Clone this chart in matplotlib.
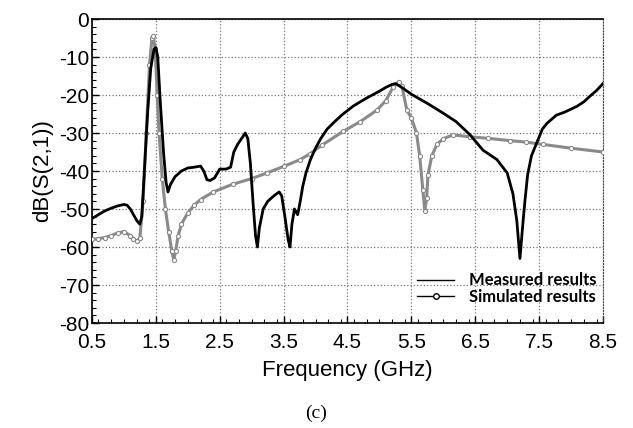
import matplotlib
matplotlib.use('Agg')
import matplotlib.pyplot as plt
from matplotlib.ticker import MultipleLocator

# measured S21 (frequency in GHz, dB)
meas_f = [0.5, 0.6, 0.7, 0.8, 0.9, 1.0, 1.05, 1.1, 1.15, 1.2, 1.25, 1.28, 1.32, 1.37,
          1.42, 1.47, 1.5, 1.53, 1.57, 1.62, 1.66, 1.69, 1.73, 1.8, 1.9, 2.0, 2.1, 2.2,
          2.25, 2.3, 2.35, 2.42, 2.5, 2.6, 2.67, 2.72, 2.78, 2.84, 2.9, 2.94, 2.98, 3.02,
          3.06, 3.09, 3.12, 3.18, 3.25, 3.35, 3.43, 3.47, 3.52, 3.57, 3.6, 3.63, 3.67,
          3.72, 3.76, 3.8, 3.85, 3.92, 4.0, 4.08, 4.18, 4.3, 4.43, 4.6, 4.8, 5.0, 5.1,
          5.2, 5.25, 5.35, 5.5, 5.75, 6.0, 6.2, 6.42, 6.62, 6.84, 7.0, 7.09, 7.15, 7.2,
          7.25, 7.28, 7.32, 7.38, 7.46, 7.55, 7.62, 7.77, 7.9, 8.09, 8.2, 8.29, 8.4, 8.5]
meas_db = [-52.5, -51.5, -50.5, -49.8, -49.2, -48.8, -49, -50, -51.5, -53, -54, -52, -40, -25,
           -13, -8, -7.5, -10, -22, -35, -43, -45.5, -43.5, -41.5, -40, -39.2, -39, -38.7,
           -40, -42.3, -42.5, -41.8, -39.5, -39.5, -39, -35, -33, -31.5, -30, -31.5, -38, -48,
           -57, -60, -55, -50, -48, -46.5, -45.5, -46.5, -52, -58, -60, -54, -50,
           -51.5, -48, -44, -40.5, -37, -34, -31.5, -29, -27, -25, -22.8, -20.8, -19, -18,
           -17.2, -17, -18, -19.8, -22.2, -24.8, -27, -30.5, -34.5, -37, -40.5, -46, -53, -63,
           -53, -47.5, -41, -36, -32.7, -29, -27.5, -25.3, -24.5, -23, -21.8, -20.4, -18.8, -17]

# simulated S21
sim_f = [0.5, 0.6, 0.7, 0.8, 0.9, 1.0, 1.1, 1.15, 1.2, 1.25, 1.3, 1.35, 1.4, 1.44, 1.46,
         1.49, 1.52, 1.55, 1.6, 1.65, 1.7, 1.75, 1.78, 1.81, 1.85, 1.9, 2.0, 2.1, 2.2, 2.4,
         2.7, 3.0, 3.24, 3.5, 3.76, 3.91, 4.1, 4.43, 4.7, 4.96, 5.1, 5.21, 5.3, 5.35, 5.43,
         5.5, 5.58, 5.63, 5.68, 5.71, 5.74, 5.76, 5.82, 5.9, 6.0, 6.15, 6.42, 6.7, 7.04,
         7.3, 7.56, 8.0, 8.5]
sim_db = [-58, -57.8, -57.5, -57, -56.3, -56, -57, -57.8, -58.5, -57.5, -48, -30, -12, -5, -4.5,
          -8, -20, -30, -42, -50, -56, -61, -63.5, -61, -57, -54, -51, -49, -47.5, -45.5,
          -43.5, -42, -40.5, -38.8, -37, -35.5, -33.2, -29.6, -27, -24, -21.5, -18, -16.5, -17.5, -24,
          -26, -30, -36, -45, -50.5, -47, -41, -36, -33, -31.5, -30.5, -31, -31.4, -32,
          -32.4, -33, -34, -35]

xticks = [0.5, 1.5, 2.5, 3.5, 4.5, 5.5, 6.5, 7.5, 8.5]
yticks = [0, -10, -20, -30, -40, -50, -60, -70, -80]

fig = plt.figure(figsize=(6.33, 4.28), dpi=100)
ax = fig.add_axes([0.1453, 0.2453, 0.8073, 0.7103])

ax.plot(sim_f, sim_db, color='#8a8a8a', linewidth=2.2, marker='o', markersize=3,
        markerfacecolor='white', markeredgecolor='#8a8a8a', markeredgewidth=0.8,
        label='Simulated results', zorder=3)
ax.plot(meas_f, meas_db, color='black', linewidth=2.0, label='Measured results', zorder=4)

ax.set_xlim(0.5, 8.5)
ax.set_ylim(-80, 0)
ax.set_xticks(xticks)
ax.set_yticks(yticks)
ax.set_xticklabels([str(t) for t in xticks])
ax.set_yticklabels([str(t) for t in yticks])
ax.xaxis.set_minor_locator(MultipleLocator(0.2))
ax.yaxis.set_minor_locator(MultipleLocator(2))
ax.tick_params(which='both', direction='in', top=False, right=False)
ax.tick_params(which='major', length=5, width=1)
ax.tick_params(which='minor', length=3, width=0.8)
ax.tick_params(axis='x', labelsize=15, pad=7)
ax.tick_params(axis='y', labelsize=15, pad=2)
for lab in ax.get_xticklabels() + ax.get_yticklabels():
    lab.set_family('Liberation Sans')

ax.grid(True, which='major', linestyle=':', color='#777777', linewidth=0.9)
ax.spines['right'].set_linestyle(':')
ax.spines['right'].set_color('#444444')
for s in ['left', 'bottom', 'top']:
    ax.spines[s].set_linewidth(1.2)

ax.set_xlabel('Frequency (GHz)', family='Liberation Sans', size=16, labelpad=6)
ax.set_ylabel('dB(S(2,1))', family='Liberation Sans', size=16, labelpad=4)

# legend: black sample lines as in the original
h_meas = plt.Line2D([], [], color='black', linewidth=1.0)
h_sim = plt.Line2D([], [], color='black', linewidth=1.0, marker='o', markersize=4,
                   markerfacecolor='white', markeredgecolor='black')
ax.legend([h_meas, h_sim], ['Measured results', 'Simulated results'],
          loc='lower right', bbox_to_anchor=(1.01, 0.02), frameon=False,
          prop={'family': 'Lato', 'size': 12, 'weight': 'bold'}, handlelength=2.2,
          handletextpad=0.9, labelspacing=0.05, borderpad=0.2)

fig.text(0.499, 0.035, '(c)', family='Liberation Serif', size=14, ha='center', va='center')

plt.savefig('out.png', dpi=100)
